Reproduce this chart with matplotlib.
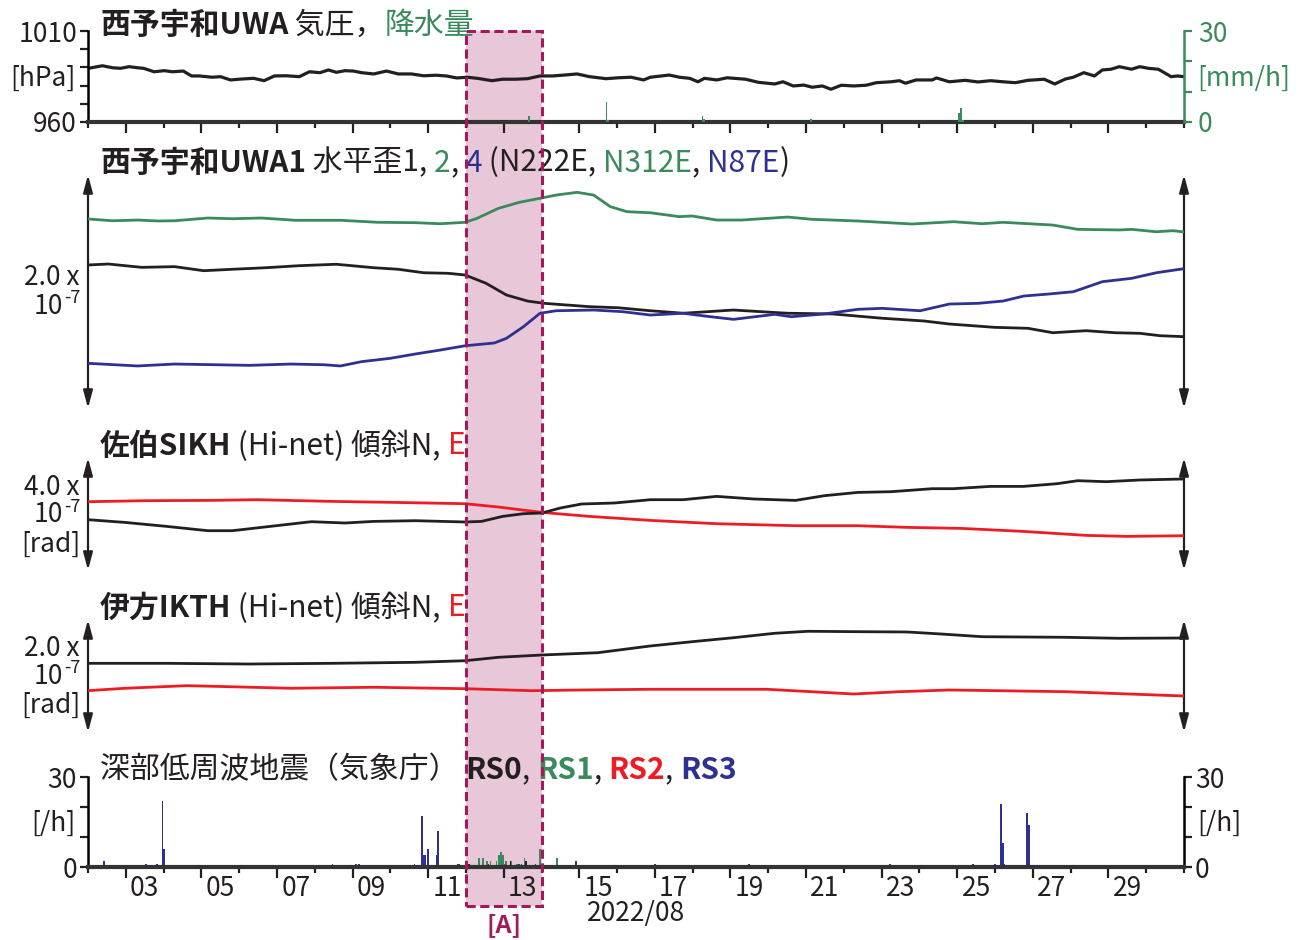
import matplotlib
matplotlib.use('Agg')
import matplotlib.pyplot as plt
from matplotlib import transforms
from matplotlib.patches import Rectangle, FancyArrowPatch

plt.rcParams['font.family'] = ['Noto Sans CJK JP', 'DejaVu Sans']

W, H = 1302, 940
BLACK = '#231f20'
GREEN = '#3a8a5c'
BLUE = '#2e3192'
RED = '#ed1c24'
PINK = '#e8c8d8'
MAGENTA = '#a3195b'

# ---- データ (日 = 8月の日付, 小数は時刻) ----
pressure_day = [2.01, 2.38, 2.65, 2.86, 3.09, 3.31, 3.47, 3.75, 4.02, 4.24,
                4.52, 4.74, 4.95, 5.28, 5.51, 5.77, 6.05, 6.38, 6.66, 6.93,
                7.25, 7.59, 7.86, 8.14, 8.36, 8.57, 8.80, 9.02, 9.24, 9.56,
                9.90, 10.21, 10.56, 10.88, 11.21, 11.48, 11.76, 12.03, 12.30, 12.69,
                12.97, 13.30, 13.63, 13.96, 14.29, 14.61, 14.94, 15.27, 15.71, 16.03,
                16.37, 16.70, 16.88, 17.38, 17.65, 17.92, 18.14, 18.31, 18.64, 18.91,
                19.40, 19.74, 20.17, 20.39, 20.66, 20.94, 21.16, 21.43, 21.66, 21.93,
                22.26, 22.59, 22.86, 23.25, 23.47, 23.63, 23.91, 24.34, 24.45, 24.79,
                25.21, 25.55, 25.88, 26.21, 26.54, 26.87, 27.30, 27.58, 27.86, 28.07,
                28.35, 28.63, 28.84, 29.07, 29.29, 29.61, 29.83, 30.06, 30.32, 30.66,
                30.83, 30.99]
pressure_hpa = [989.5, 990.9, 989.8, 989.5, 990.4, 989.8, 989.5, 987.6, 988.2, 987.6,
                988.0, 985.3, 985.3, 984.6, 984.9, 983.1, 983.6, 984.0, 982.7, 985.3,
                985.4, 984.9, 987.6, 987.1, 988.6, 987.3, 988.2, 988.0, 987.1, 986.4,
                988.0, 986.4, 986.4, 985.4, 985.7, 985.3, 984.2, 984.6, 984.0, 982.7,
                983.5, 983.5, 983.8, 985.3, 985.3, 985.8, 986.4, 984.9, 983.8, 984.3,
                984.6, 983.1, 984.6, 985.8, 984.6, 984.0, 982.1, 984.0, 983.1, 984.3,
                983.5, 981.8, 980.9, 982.1, 979.8, 980.3, 979.1, 979.8, 978.0, 980.2,
                979.8, 980.2, 981.6, 982.1, 982.7, 981.3, 983.1, 983.1, 984.2, 982.1,
                982.9, 982.0, 982.7, 982.1, 981.6, 982.9, 983.5, 980.9, 983.6, 984.6,
                987.1, 985.3, 988.6, 989.0, 990.4, 989.0, 990.4, 989.5, 989.0, 984.9,
                985.3, 984.9]

rain_day = [13.68, 15.72, 15.77, 18.26, 18.31, 21.14, 25.05, 25.10, 25.15]
rain_mm = [2.0, 6.5, 0.5, 2.0, 1.0, 1.0, 3.0, 4.7, 0.5]

# 水平歪 (単位 1e-9, 相対値)
s1_day = [2.0, 2.54, 3.42, 4.29, 5.06, 5.82, 6.71, 7.59, 8.57, 9.56, 10.21, 10.88,
          11.54, 11.98, 12.53, 13.07, 13.63, 14.07, 15.27, 16.03, 16.88, 17.75, 19.08,
          20.51, 21.71, 23.02, 24.13, 24.79, 25.99, 26.87, 27.53, 28.41, 29.17, 29.83,
          30.37, 31.0]
s1_val = [122.2, 123.0, 120.2, 120.8, 117.4, 118.6, 119.9, 121.6, 122.8, 119.9, 118.6,
          115.7, 115.2, 113.8, 106.9, 97.1, 92.0, 90.1, 87.3, 86.4, 83.9, 81.8, 84.5,
          81.8, 81.2, 77.6, 75.3, 72.8, 70.0, 69.2, 65.5, 67.2, 65.5, 65.0, 63.0, 62.2]
s2_day = [2.0, 2.65, 3.31, 3.86, 4.29, 5.17, 5.82, 6.59, 7.48, 8.68, 9.67, 10.66, 11.32,
          11.98, 12.30, 12.86, 13.41, 13.96, 14.39, 14.94, 15.38, 15.82, 16.26, 16.88,
          17.65, 17.98, 18.64, 19.29, 20.51, 21.16, 22.37, 23.80, 24.90, 25.66, 26.21,
          27.53, 28.19, 29.29, 29.61, 30.27, 30.71, 31.0]
s2_val = [160.7, 159.2, 159.8, 159.0, 159.2, 161.5, 160.9, 161.5, 159.6, 159.6, 157.9,
          157.6, 156.7, 157.9, 161.3, 169.6, 174.6, 178.0, 180.7, 183.0, 180.7, 171.0,
          166.8, 165.9, 162.6, 163.2, 159.8, 159.8, 162.3, 160.4, 159.0, 156.5, 158.4,
          156.7, 157.9, 155.6, 152.0, 151.5, 152.0, 150.0, 150.9, 149.8]
s4_day = [2.0, 3.31, 4.29, 5.39, 6.27, 7.37, 8.25, 8.68, 9.24, 10.00, 10.66, 11.32,
          11.98, 12.75, 13.07, 13.52, 13.96, 14.39, 15.38, 16.15, 16.88, 17.75, 18.31,
          19.08, 20.17, 20.61, 21.48, 22.37, 23.02, 24.02, 24.79, 25.55, 26.21, 26.76,
          27.42, 28.07, 28.84, 29.61, 30.27, 31.0]
s4_val = [39.9, 37.7, 39.3, 38.7, 38.2, 39.3, 38.7, 37.7, 41.3, 44.1, 47.7, 51.0, 54.6,
          56.9, 60.8, 70.5, 81.8, 83.9, 84.5, 83.1, 80.3, 81.8, 79.5, 76.7, 80.9, 78.9,
          81.2, 85.1, 85.9, 83.9, 89.5, 90.1, 92.0, 96.2, 97.9, 99.8, 108.2, 111.0,
          115.7, 119.1]

# 佐伯SIKH 傾斜 (単位 1e-9 rad, 相対値)
sikh_n_day = [2.0, 2.98, 4.08, 5.17, 5.82, 6.82, 7.91, 8.80, 9.56, 10.66, 11.98, 12.41,
              12.97, 13.52, 14.01, 14.50, 15.06, 15.93, 16.88, 17.75, 18.63, 19.62,
              20.72, 21.48, 22.37, 23.25, 24.34, 24.90, 25.88, 26.75, 27.64, 28.19,
              28.94, 29.83, 31.0]
sikh_n_val = [180.7, 171.5, 158.0, 143.4, 143.4, 158.0, 173.9, 169.5, 174.9, 177.3,
              172.9, 174.9, 191.9, 201.0, 203.4, 220.4, 233.9, 237.3, 248.5, 248.5,
              259.7, 250.9, 246.1, 262.0, 273.2, 275.6, 285.8, 285.8, 293.6, 293.6,
              302.7, 312.9, 309.5, 315.3, 318.7]
sikh_e_day = [2.0, 3.52, 5.17, 6.48, 8.47, 10.11, 11.98, 12.86, 14.01, 15.27, 16.88,
              18.63, 20.72, 22.37, 23.68, 25.11, 26.75, 28.41, 29.50, 31.0]
sikh_e_val = [241.7, 245.1, 246.1, 248.5, 242.7, 239.3, 234.9, 223.7, 205.4, 191.9,
              178.3, 167.1, 160.3, 160.3, 154.6, 151.2, 141.0, 127.5, 124.1, 126.4]

# 伊方IKTH 傾斜 (単位 1e-9 rad, 相対値)
ikth_n_day = [2.0, 4.08, 6.27, 8.47, 10.66, 11.98, 12.86, 14.01, 15.49, 16.88, 17.98,
              19.08, 20.17, 21.05, 22.37, 23.68, 24.57, 25.66, 27.86, 29.29, 31.0]
ikth_n_val = [121.5, 121.5, 120.3, 121.5, 123.2, 125.9, 131.7, 135.6, 139.5, 150.9,
              158.1, 164.9, 172.4, 175.8, 175.1, 174.6, 171.2, 166.6, 165.6, 163.9, 164.4]
ikth_e_day = [2.0, 2.98, 4.62, 5.72, 7.37, 9.56, 11.98, 13.73, 15.06, 16.88, 19.95,
              22.26, 23.47, 24.79, 27.86, 31.0]
ikth_e_val = [75.1, 79.2, 83.6, 81.9, 79.2, 80.9, 78.5, 75.1, 76.3, 77.5, 77.5, 69.5,
              73.4, 76.3, 73.4, 66.1]

# 深部低周波地震 (1時間あたりの個数)
rs3_day = [2.43, 3.53, 3.83, 3.97, 4.02, 8.47, 9.10, 9.16, 10.64, 10.84, 10.88, 10.93,
           11.00, 11.22, 11.26, 11.78, 11.81, 12.58, 13.40, 13.47, 13.84, 14.04, 14.90,
           14.92, 17.01, 19.48, 23.22, 25.41, 25.99, 26.16, 26.20, 26.25, 26.85, 26.89]
rs3_cnt = [2, 1, 1, 22, 6, 1, 1, 1, 1, 17, 4, 4, 6, 4, 12, 1, 1, 1, 1, 1, 1, 1, 1, 2,
           1, 1, 1, 1, 1, 21, 8, 1, 18, 14]
rs1_day = [12.35, 12.44, 12.56, 12.65, 12.81, 12.87, 12.93, 12.98, 13.07, 13.19, 13.35,
           13.55, 13.97, 14.42]
rs1_cnt = [3, 3, 2, 2, 2, 4, 5, 4, 2, 2, 1, 3, 6, 3]
rs0_day = [12.07, 13.18, 13.60]
rs0_cnt = [1, 2, 2]
rs2_day = [13.04]
rs2_cnt = [1]

tick_days = list(range(3, 30, 2))
tick_labels = ['%02d' % d for d in tick_days]
event_start, event_end = 12.0, 14.0

# ---- 図 ----
fig = plt.figure(figsize=(W / 100, H / 100), dpi=100)
renderer = fig.canvas.get_renderer()


def add_ax(top, bottom):
    ax = fig.add_axes([88 / W, 1 - bottom / H, (1184 - 88) / W, (bottom - top) / H])
    ax.set_facecolor('none')
    ax.set_xlim(2, 31)
    return ax


def fig_text(x, y, s, **kw):
    kw.setdefault('color', BLACK)
    kw.setdefault('fontsize', 19)
    kw.setdefault('va', 'center')
    return fig.text(x / W, 1 - y / H, s, **kw)


def text_width(s, **kw):
    t1 = fig.text(0, 0, 'x' + s + 'x', **kw)
    t2 = fig.text(0, 0, 'xx', **kw)
    w = t1.get_window_extent(renderer).width - t2.get_window_extent(renderer).width
    t1.remove()
    t2.remove()
    return w


def title(x, y, parts, size=21.5):
    for s, c, bold in parts:
        kw = dict(fontsize=size, fontweight='bold' if bold else 'normal')
        fig_text(x, y, s, color=c, ha='left', **kw)
        x += text_width(s, **kw)


def scale_label(y, head, unit=None):
    # "2.0 x" / "10" + 上付き "-7" / "[rad]"
    fig_text(80, y, head, ha='right')
    fig_text(63, y + 28, '10', ha='right')
    fig_text(64, y + 20, '-7', ha='left', fontsize=13)
    if unit:
        fig_text(80, y + 57, unit, ha='right')


def arrows(ax):
    for xa in (0, 1):
        ar = FancyArrowPatch((xa, 0), (xa, 1), transform=ax.transAxes,
                             arrowstyle='<|-|>,head_length=0.75,head_width=0.2',
                             mutation_scale=14, color=BLACK, lw=1.6, clip_on=False)
        ax.add_patch(ar)


def hide_all(ax):
    for sp in ax.spines.values():
        sp.set_visible(False)
    ax.set_xticks([])
    ax.set_yticks([])


def x_ticks(ax):
    ax.set_xticks(tick_days)
    ax.set_xticks([d + 1 for d in tick_days[:-1]] + [2, 30, 31], minor=True)
    ax.tick_params(axis='x', which='major', length=8, width=1.6, color=BLACK,
                   labelbottom=False)
    ax.tick_params(axis='x', which='minor', length=4, width=1.6, color=BLACK)
    ax.spines['bottom'].set_linewidth(3)
    ax.spines['bottom'].set_color('#333333')
    ax.spines['top'].set_visible(False)


# 1. 気圧・降水量
ax1 = add_ax(31, 122)
ax1.plot(pressure_day, pressure_hpa, color=BLACK, lw=2.3)
ax1.set_ylim(960, 1010)
ax1.set_yticks(range(960, 1011, 10))
ax1.set_yticklabels(['960', '', '', '', '', '1010'])
ax1.tick_params(axis='y', length=6, width=1.6, color=BLACK, labelsize=19,
                labelcolor=BLACK, pad=2)
ax1.spines['left'].set_linewidth(1.8)
ax1.spines['right'].set_visible(False)
x_ticks(ax1)
ax1r = ax1.twinx()
ax1r.set_xlim(2, 31)
ax1r.bar(rain_day, rain_mm, width=0.05, color=GREEN)
ax1r.set_ylim(0, 30)
ax1r.set_yticks([0, 10, 20, 30])
ax1r.set_yticklabels(['0', '', '', '30'])
ax1r.tick_params(axis='y', length=6, width=1.6, color=GREEN, labelsize=19,
                 labelcolor=GREEN, pad=4)
for k in ('left', 'top', 'bottom'):
    ax1r.spines[k].set_visible(False)
ax1r.spines['right'].set_color(GREEN)
ax1r.spines['right'].set_linewidth(1.8)
fig_text(76, 78, '[hPa]', ha='right')
fig_text(1197, 78, '[mm/h]', ha='left', color=GREEN)

# 2. 水平歪
ax2 = add_ax(172, 411)
ax2.plot(s2_day, s2_val, color=GREEN, lw=2)
ax2.plot(s1_day, s1_val, color=BLACK, lw=2)
ax2.plot(s4_day, s4_val, color=BLUE, lw=2)
ax2.set_ylim(0, 200)
hide_all(ax2)
arrows(ax2)
scale_label(278, '2.0 x')

# 3. 佐伯SIKH
ax3 = add_ax(455, 573)
ax3.plot(sikh_e_day, sikh_e_val, color=RED, lw=2)
ax3.plot(sikh_n_day, sikh_n_val, color=BLACK, lw=2)
ax3.set_ylim(0, 400)
hide_all(ax3)
arrows(ax3)
scale_label(487, '4.0 x', '[rad]')

# 4. 伊方IKTH
ax4 = add_ax(617, 735)
ax4.plot(ikth_e_day, ikth_e_val, color=RED, lw=2)
ax4.plot(ikth_n_day, ikth_n_val, color=BLACK, lw=2)
ax4.set_ylim(0, 200)
hide_all(ax4)
arrows(ax4)
scale_label(648, '2.0 x', '[rad]')

# 5. 深部低周波地震
ax5 = add_ax(777, 867)
ax5.bar(rs3_day, rs3_cnt, width=0.05, color=BLUE)
ax5.bar(rs1_day, rs1_cnt, width=0.05, color=GREEN)
ax5.bar(rs0_day, rs0_cnt, width=0.05, color=BLACK)
ax5.bar(rs2_day, rs2_cnt, width=0.05, color=RED)
ax5.set_ylim(0, 30)
ax5.set_yticks([0, 10, 20, 30])
ax5.set_yticklabels(['0', '', '', '30'])
ax5.tick_params(axis='y', length=6, width=1.6, color=BLACK, labelsize=19,
                labelcolor=BLACK, pad=2, right=True, labelright=True)
ax5.spines['left'].set_linewidth(1.8)
ax5.spines['right'].set_linewidth(1.8)
x_ticks(ax5)
fig_text(76, 823, '[/h]', ha='right')
fig_text(1197, 823, '[/h]', ha='left')
xt = transforms.blended_transform_factory(ax5.transData, fig.transFigure)
for d, lab in zip(tick_days, tick_labels):
    ax5.text(d + 0.5, 1 - 888 / H, lab, transform=xt, ha='center', va='center',
             fontsize=19, color=BLACK)
ax5.text(16.5, 1 - 913 / H, '2022/08', transform=xt, ha='center', va='center',
         fontsize=19, color=BLACK)
ax5.text((event_start + event_end) / 2, 1 - 925 / H, '[A]', transform=xt,
         ha='center', va='center', fontsize=18, fontweight='bold', color=MAGENTA)

# 期間 [A] の帯
y0, y1 = 1 - 906 / H, 1 - 31 / H
fill = Rectangle((event_start, y0), event_end - event_start, y1 - y0, transform=xt,
                 facecolor=PINK, edgecolor='none', zorder=-1)
fig.patches.append(fill)
fill.set_figure(fig)
edge = Rectangle((event_start, y0), event_end - event_start, y1 - y0, transform=xt,
                 facecolor='none', edgecolor=MAGENTA, lw=2.2, ls=(0, (3, 1.5)), zorder=10)
fig.patches.append(edge)
edge.set_figure(fig)

# タイトル
title(100, 25, [('西予宇和UWA', BLACK, True), (' 気圧，', BLACK, False),
                ('降水量', GREEN, False)])
title(100, 163, [('西予宇和UWA1', BLACK, True), (' 水平歪1, ', BLACK, False),
                 ('2', GREEN, False), (', ', BLACK, False), ('4', BLUE, False),
                 (' (N222E, ', BLACK, False), ('N312E', GREEN, False),
                 (', ', BLACK, False), ('N87E', BLUE, False), (')', BLACK, False)])
title(100, 446, [('佐伯SIKH', BLACK, True), (' (Hi-net) 傾斜N, ', BLACK, False),
                 ('E', RED, False)])
title(100, 608, [('伊方IKTH', BLACK, True), (' (Hi-net) 傾斜N, ', BLACK, False),
                 ('E', RED, False)])
title(100, 770, [('深部低周波地震（気象庁） ', BLACK, False), ('RS0', BLACK, True),
                 (', ', BLACK, False), ('RS1', GREEN, True), (', ', BLACK, False),
                 ('RS2', RED, True), (', ', BLACK, False), ('RS3', BLUE, True)])

fig.savefig('out.png', dpi=100)
